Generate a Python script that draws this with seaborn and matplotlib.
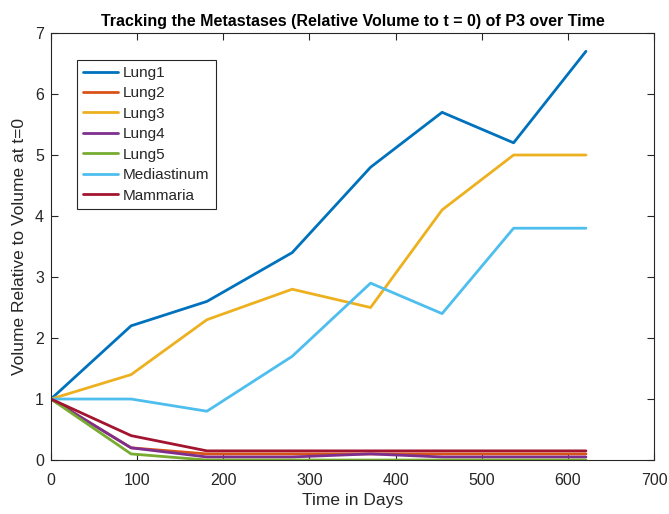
import numpy as np
import pandas as pd
import matplotlib
matplotlib.use("Agg")
import matplotlib.pyplot as plt
import seaborn as sns

days = [0, 93, 181, 280, 371, 454, 537, 621]
lung1 = [1.0, 2.2, 2.6, 3.4, 4.8, 5.7, 5.2, 6.7]
lung2 = [1.0, 0.2, 0.1, 0.1, 0.1, 0.1, 0.1, 0.1]
lung3 = [1.0, 1.4, 2.3, 2.8, 2.5, 4.1, 5.0, 5.0]
lung4 = [1.0, 0.2, 0.05, 0.05, 0.1, 0.05, 0.05, 0.05]
lung5 = [1.0, 0.1, 0.0, 0.0, 0.0, 0.0, 0.0, 0.0]
mediastinum = [1.0, 1.0, 0.8, 1.7, 2.9, 2.4, 3.8, 3.8]
mammaria = [1.0, 0.4, 0.15, 0.15, 0.15, 0.15, 0.15, 0.15]

site_names = ["Lung1", "Lung2", "Lung3", "Lung4", "Lung5", "Mediastinum", "Mammaria"]
site_values = [lung1, lung2, lung3, lung4, lung5, mediastinum, mammaria]
colors = ["#0072BD", "#D95319", "#EDB120", "#7E2F8E", "#77AC30", "#4DBEEE", "#A2142F"]

frames = [pd.DataFrame({"Day": days, "Volume": vals, "Site": name})
          for name, vals in zip(site_names, site_values)]
df = pd.concat(frames, ignore_index=True)

sns.set_style("white")
plt.rcParams["font.family"] = ["Liberation Sans", "DejaVu Sans"]

fig = plt.figure(figsize=(6.69, 5.14), dpi=100)
ax = fig.add_axes([0.0762, 0.105, 0.9014, 0.8308])

sns.lineplot(data=df, x="Day", y="Volume", hue="Site", hue_order=site_names,
             palette=colors, linewidth=2, ax=ax, sort=False, estimator=None)

ax.set_xlim(0, 700)
ax.set_ylim(0, 7)
ax.set_xticks(np.arange(0, 701, 100))
ax.set_yticks(np.arange(0, 8, 1))

edge = "#262626"
for s in ax.spines.values():
    s.set_visible(True)
    s.set_color(edge)
    s.set_linewidth(0.8)
ax.tick_params(direction="in", length=5, width=0.8, color=edge,
               labelcolor=edge, labelsize=11.5, top=True, right=True,
               bottom=True, left=True)
ax.tick_params(axis="x", pad=9)
ax.tick_params(axis="y", pad=5)

ax.set_xlabel("Time in Days", fontsize=12.5, color=edge, labelpad=4)
ax.set_ylabel("Volume Relative to Volume at t=0", fontsize=12.5, color=edge, labelpad=6)
ax.set_title("Tracking the Metastases (Relative Volume to t = 0) of P3 over Time",
             fontsize=11.5, fontweight="bold", color="black", pad=5)

leg = ax.legend(loc="upper left", bbox_to_anchor=(0.043, 0.937), fontsize=11,
                frameon=True, fancybox=False, edgecolor=edge, framealpha=1,
                handlelength=2.3, handletextpad=0.33, labelspacing=0.42,
                borderpad=0.4, borderaxespad=0)
leg.get_frame().set_linewidth(0.8)

fig.savefig("out.png", dpi=100, facecolor="white")
